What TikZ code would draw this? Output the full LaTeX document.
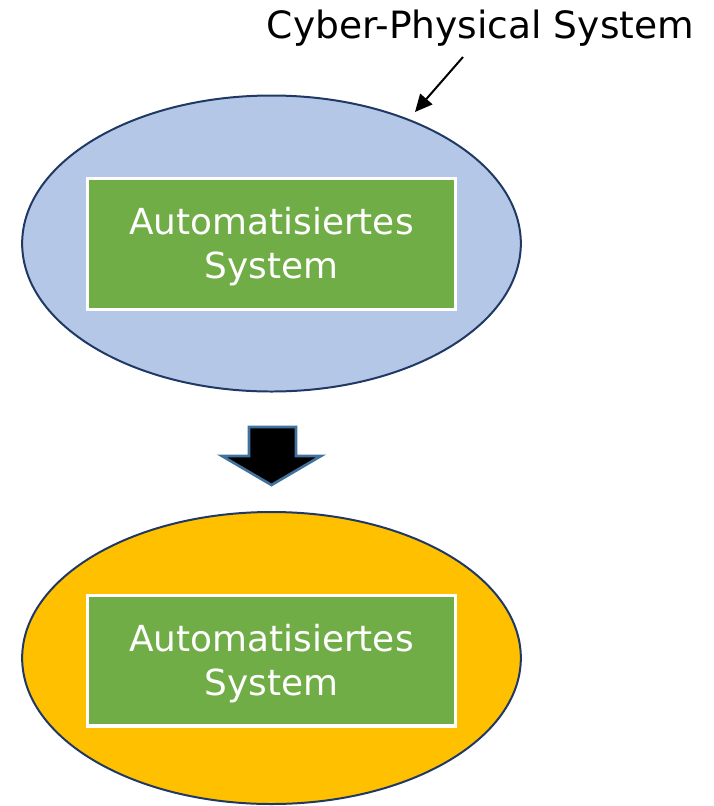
\documentclass[tikz,border=0pt]{standalone}
\usepackage{fontspec}
\setmainfont{DejaVu Sans}
\usetikzlibrary{shapes.geometric,arrows.meta}
\definecolor{cpsblue}{HTML}{B4C7E7}
\definecolor{cpsorange}{HTML}{FFC000}
\definecolor{boxgreen}{HTML}{70AD47}
\definecolor{rimnavy}{HTML}{1F3864}
\definecolor{arrowrim}{HTML}{41719C}
\tikzset{
  sysellipse/.style={ellipse, draw=rimnavy, line width=1.5pt, minimum width=374bp, minimum height=222bp, inner sep=0pt},
  autobox/.style={rectangle, fill=boxgreen, draw=white, line width=2.5pt, minimum width=276bp, minimum height=98bp},
  boxtext/.style={text=white, align=center, font=\fontsize{27}{33}\selectfont},
}
\begin{document}
\begin{tikzpicture}[x=0.75bp, y=-0.75bp]
\useasboundingbox (0,0) rectangle (714,806);
% upper system: cyber-physical
\node[sysellipse, fill=cpsblue] (cps) at (271.5,243.5) {};
\node[autobox] (box1) at (271.5,244) {};
\node[boxtext] (txt1) at (271.5,247) {Automatisiertes\\System};
% lower system
\node[sysellipse, fill=cpsorange, minimum height=219bp] (sys) at (271.5,658) {};
\node[autobox] (box2) at (271.5,660.5) {};
\node[boxtext] (txt2) at (271.5,663.5) {Automatisiertes\\System};
% caption with pointer
\node[font=\fontsize{28.3}{32}\selectfont, anchor=center] (cpslabel) at (480.5,28) {Cyber-Physical System};
\coordinate (ptrstart) at (463,57);
\coordinate (ptrend) at (415,112);
\draw[-{Triangle[length=13bp,width=12bp]}, line width=1.5pt] (ptrstart) -- (ptrend);
% transition block arrow
\draw[fill=black, draw=arrowrim, line width=2pt, line join=miter]
  (249,427) -- (296,427) -- (296,456) -- (321,456) -- (271.5,485) -- (222,456) -- (249,456) -- cycle;
\end{tikzpicture}
\end{document}
